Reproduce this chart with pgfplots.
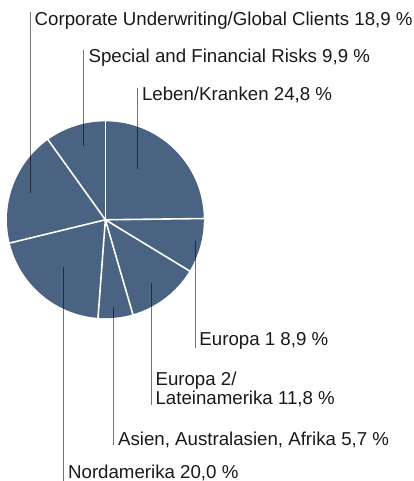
\documentclass[border=0pt]{standalone}
\usepackage{pgfplots}
\pgfplotsset{compat=1.18}
\usepackage{fontspec}
\setmainfont{Liberation Sans}
\definecolor{slice}{RGB}{74,99,130}
\tikzset{lbl/.style={anchor=base west,inner sep=0pt,font=\fontsize{18.7}{21}\selectfont,text=black!90},
  lead/.style={black,opacity=0.55,line width=1pt,no marks}}
\begin{document}
\begin{tikzpicture}
\begin{axis}[width=414pt,height=481pt,scale only axis,
  xmin=0,xmax=414,ymin=0,ymax=481,hide axis,clip=false]
\path (axis cs:0,0) rectangle (axis cs:414,481);
% Pie slices (cumulative shares in percent, clockwise from 12 o'clock)
% Leben/Kranken 24.8, Europa 1 8.9, Europa 2 11.8, Asien 5.7, Nordamerika 20.0, Corporate 18.9, Special 9.9
\fill[slice] (axis cs:105.5,261) -- ++({90-3.6*0}:98.5)    arc[start angle={90-3.6*0},    end angle={90-3.6*24.8}, radius=98.5] -- cycle;
\fill[slice] (axis cs:105.5,261) -- ++({90-3.6*24.8}:98.5) arc[start angle={90-3.6*24.8}, end angle={90-3.6*33.7}, radius=98.5] -- cycle;
\fill[slice] (axis cs:105.5,261) -- ++({90-3.6*33.7}:98.5) arc[start angle={90-3.6*33.7}, end angle={90-3.6*45.5}, radius=98.5] -- cycle;
\fill[slice] (axis cs:105.5,261) -- ++({90-3.6*45.5}:98.5) arc[start angle={90-3.6*45.5}, end angle={90-3.6*51.2}, radius=98.5] -- cycle;
\fill[slice] (axis cs:105.5,261) -- ++({90-3.6*51.2}:98.5) arc[start angle={90-3.6*51.2}, end angle={90-3.6*71.2}, radius=98.5] -- cycle;
\fill[slice] (axis cs:105.5,261) -- ++({90-3.6*71.2}:98.5) arc[start angle={90-3.6*71.2}, end angle={90-3.6*90.1}, radius=98.5] -- cycle;
\fill[slice] (axis cs:105.5,261) -- ++({90-3.6*90.1}:98.5) arc[start angle={90-3.6*90.1}, end angle={90-3.6*100},  radius=98.5] -- cycle;
% separators
\draw[white,line width=1.6pt] (axis cs:105.5,261) -- ++({90-3.6*0}:100);
\draw[white,line width=1.6pt] (axis cs:105.5,261) -- ++({90-3.6*24.8}:100);
\draw[white,line width=1.6pt] (axis cs:105.5,261) -- ++({90-3.6*33.7}:100);
\draw[white,line width=1.6pt] (axis cs:105.5,261) -- ++({90-3.6*45.5}:100);
\draw[white,line width=1.6pt] (axis cs:105.5,261) -- ++({90-3.6*51.2}:100);
\draw[white,line width=1.6pt] (axis cs:105.5,261) -- ++({90-3.6*71.2}:100);
\draw[white,line width=1.6pt] (axis cs:105.5,261) -- ++({90-3.6*90.1}:100);
% leader lines
\addplot[lead] coordinates {(31,468.5) (31,288)};
\addplot[lead] coordinates {(83.5,431) (83.5,335)};
\addplot[lead] coordinates {(138,393) (138,312)};
\addplot[lead] coordinates {(196,240) (196,133)};
\addplot[lead] coordinates {(152,198) (152,76)};
\addplot[lead] coordinates {(114,174) (114,36)};
\addplot[lead] coordinates {(64,214) (64,0)};
% labels
\node[lbl] at (axis cs:34.5,455) {Corporate Underwriting/Global Clients 18,9 \%};
\node[lbl] at (axis cs:88.5,418.3) {Special and Financial Risks 9,9 \%};
\node[lbl] at (axis cs:142,380.3) {Leben/Kranken 24,8 \%};
\node[lbl] at (axis cs:199.5,135) {Europa 1 8,9 \%};
\node[lbl] at (axis cs:155.5,95) {Europa 2/};
\node[lbl] at (axis cs:155.5,76) {Lateinamerika 11,8 \%};
\node[lbl] at (axis cs:118,35) {Asien, Australasien, Afrika 5,7 \%};
\node[lbl] at (axis cs:68,2) {Nordamerika 20,0 \%};
\end{axis}
\end{tikzpicture}
\end{document}
